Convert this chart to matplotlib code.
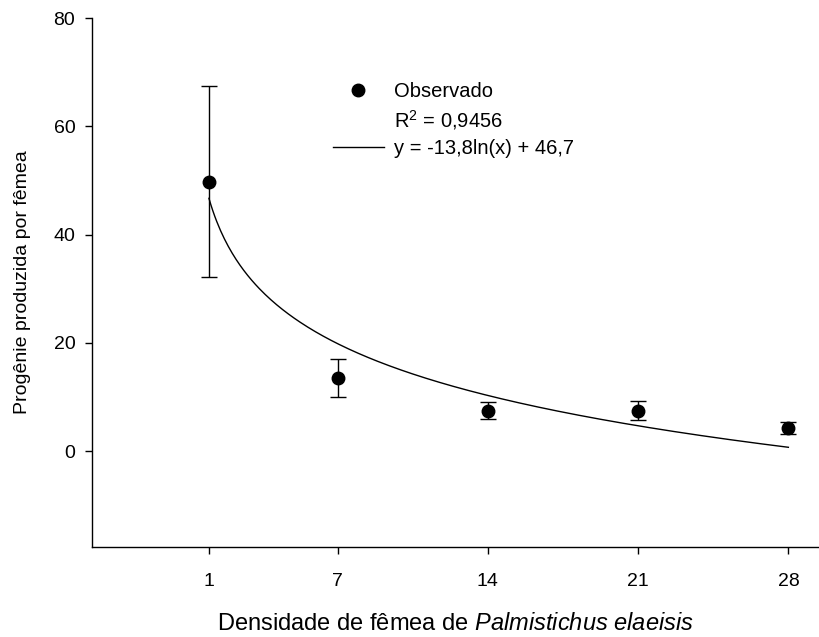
import numpy as np
import matplotlib
matplotlib.use('Agg')
import matplotlib.pyplot as plt
from matplotlib.lines import Line2D

plt.rcParams['font.family'] = ['Liberation Sans', 'DejaVu Sans']
plt.rcParams['mathtext.fontset'] = 'custom'
plt.rcParams['mathtext.rm'] = 'Liberation Sans'
plt.rcParams['mathtext.it'] = 'Liberation Sans:italic'

# Data
densidade = [1, 7, 14, 21, 28]
progenie = [49.8, 13.5, 7.5, 7.5, 4.2]
erro = [17.6, 3.5, 1.5, 1.8, 1.1]

# Fitted model y = a*ln(x) + b
coef_a = -13.8
coef_b = 46.7
r2_txt = '0,9456'

x_ticks = [1, 7, 14, 21, 28]
y_ticks = [0, 20, 40, 60, 80]

fig = plt.figure(figsize=(8.19, 6.37), dpi=100)
ax = fig.add_axes([0.1123, 0.1413, 0.887, 0.8304])

xf = np.linspace(min(densidade), max(densidade), 300)
ax.plot(xf, coef_a * np.log(xf) + coef_b, color='black', lw=1.0)
ax.errorbar(densidade, progenie, yerr=erro, fmt='o', color='black',
            ms=9, capsize=5.5, elinewidth=1.0, capthick=1.0)

ax.set_xlim(-4.45, 29.4)
ax.set_ylim(-17.7, 80)
ax.set_xticks(x_ticks)
ax.set_xticklabels([str(v) for v in x_ticks])
ax.set_yticks(y_ticks)
ax.tick_params(direction='out', length=5, width=1.0, labelsize=14, pad=14)
ax.tick_params(axis='y', pad=7)
for s in ['top', 'right']:
    ax.spines[s].set_visible(False)
for s in ['left', 'bottom']:
    ax.spines[s].set_linewidth(1.0)

ax.set_xlabel(r'Densidade de fêmea de $\mathit{Palmistichus\ elaeisis}$', fontsize=17, labelpad=16)
ax.set_ylabel('Progênie produzida por fêmea', fontsize=14, labelpad=16)

handles = [
    Line2D([], [], ls='none', marker='o', color='black', ms=9),
    Line2D([], [], ls='none', marker=None),
    Line2D([], [], color='black', lw=1.0),
]
labels = ['Observado', 'R$^2$ = ' + r2_txt,
          'y = %sln(x) + %s' % (str(coef_a).replace('.', ','), str(coef_b).replace('.', ','))]
ax.legend(handles, labels, loc='upper left', bbox_to_anchor=(0.321, 0.894),
          frameon=False, fontsize=14.5, handlelength=2.5, handletextpad=0.5,
          labelspacing=0.35, borderaxespad=0)

fig.savefig('out.png', dpi=100)
